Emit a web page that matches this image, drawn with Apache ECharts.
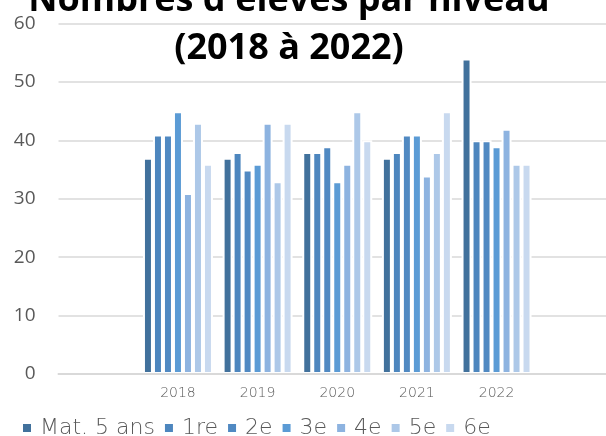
<!DOCTYPE html>
<html>
<head>
<meta charset="utf-8">
<script src="https://cdn.jsdelivr.net/npm/echarts@6/dist/echarts.min.js"></script>
<style>
  html, body { margin: 0; padding: 0; background: #fff; }
  #chart { width: 606px; height: 436px; }
</style>
</head>
<body>
<div id="chart"></div>
<script>
// catégories (une case vide de chaque côté, comme dans l'original)
const years = [' ', '2018', '2019', '2020', '2021', '2022', '  ']
const levels = ['Mat. 5 ans', '1re', '2e', '3e', '4e', '5e', '6e']
const colors = ['#41719c', '#4d86be', '#5089c2', '#5b9bd5', '#8db3e0', '#adc8e8', '#c8d9ef']

// effectifs par niveau, 2018 -> 2022
const mat5 = [37, 37, 38, 37, 54]
const re1 = [41, 38, 38, 38, 40]
const e2 = [41, 35, 39, 41, 40]
const e3 = [45, 36, 33, 41, 39]
const e4 = [31, 43, 36, 34, 42]
const e5 = [43, 33, 45, 38, 36]
const e6 = [36, 43, 40, 45, 36]
const values = [mat5, re1, e2, e3, e4, e5, e6]

const yTicks = { min: 0, max: 60, interval: 10 }

const chart = echarts.init(document.getElementById('chart'))

const option = {
  animation: false,
  color: colors,
  title: {
    text: 'Nombres d\'élèves par niveau\n(2018 à 2022)',
    left: 289,
    top: -23,
    padding: 0,
    textAlign: 'center',
    textStyle: {
      fontFamily: 'Open Sans',
      fontWeight: 'bold',
      fontSize: 36,
      lineHeight: 48,
      color: '#000'
    }
  },
  legend: {
    left: 23,
    top: 417,
    padding: 0,
    icon: 'rect',
    itemWidth: 8,
    itemHeight: 8,
    itemGap: 10,
    itemStyle: { borderWidth: 0 },
    textStyle: {
      fontFamily: 'DejaVu Sans',
      fontWeight: 200,
      fontSize: 22,
      color: '#595959',
      padding: [0, 0, 0, 4]
    }
  },
  grid: {
    left: 58.5,
    right: -10,
    top: 23.5,
    bottom: 62,
    outerBoundsMode: 'none'
  },
  xAxis: {
    type: 'category',
    data: years,
    z: 5,
    axisLine: { lineStyle: { color: '#d9d9d9', width: 2 } },
    axisTick: { length: 4, lineStyle: { color: '#d9d9d9', width: 2 } },
    axisLabel: {
      margin: 12,
      fontFamily: 'DejaVu Sans',
      fontWeight: 200,
      fontSize: 14,
      color: '#595959'
    }
  },
  yAxis: {
    type: 'value',
    min: yTicks.min,
    max: yTicks.max,
    interval: yTicks.interval,
    axisLine: { show: false },
    axisTick: { show: false },
    splitLine: { lineStyle: { color: '#d9d9d9', width: 1.5 } },
    axisLabel: {
      margin: 23,
      fontFamily: 'Open Sans',
      fontSize: 19,
      color: '#595959'
    }
  },
  series: levels.map((name, i) => ({
    name: name,
    type: 'bar',
    barWidth: 10,
    barGap: '0%',
    data: [null, ...values[i], null],
    itemStyle: {
      color: colors[i],
      borderColor: '#fff',
      borderWidth: 2
    }
  }))
}

chart.setOption(option)
</script>
</body>
</html>
